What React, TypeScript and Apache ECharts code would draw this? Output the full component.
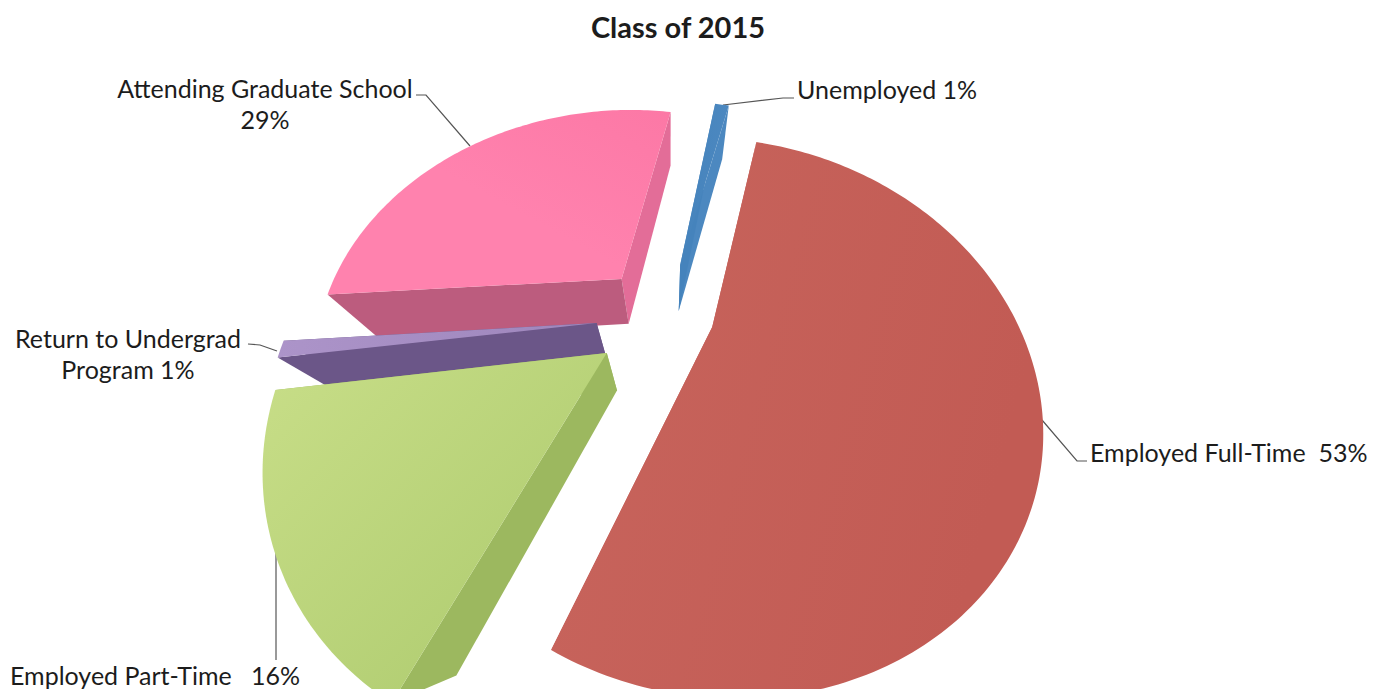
import React, { useEffect, useRef } from "react";
import * as echarts from "echarts";

// Employment outcomes, clockwise from the first slice
const categories = ["Employed Full-Time", "Employed Part-Time", "Return to Undergrad Program", "Attending Graduate School", "Unemployed"];
const shareValues = [53, 16, 1, 29, 1];

const FONT = "Lato, 'Open Sans', sans-serif";
const INK = "#1c1c1c";

// Projection of the pie's plane onto the page: a unit circle seen from above with perspective
const CAM = { cx: 661, cy: 315, ax: 302, ay: 243, persp: 0.32 };
const FLOOR_POINT = { x: 670, y: 585 }; // vanishing point of the slice walls
const THICKNESS = 0.154;
const START_ANGLE = 14;

// How far each slice is pulled out of the pie, in units of its radius
const EXPLODE_OFFSETS: [number, number][] = [
  [0.167, -0.049],
  [-0.171, -0.149],
  [-0.211, -0.033],
  [-0.137, 0.156],
  [0.068, 0.22],
];

type Pt = [number, number];

const project = (px: number, py: number): Pt => {
  const w = 1 + CAM.persp * py;
  return [CAM.cx + (CAM.ax * px) / w, CAM.cy - (CAM.ay * py) / w];
};

// Moves a plane point down through the slab, towards the vanishing point
const dropped = (px: number, py: number): Pt => {
  const [x, y] = project(px, py);
  const t = THICKNESS / (1 + CAM.persp * py);
  return [x + (FLOOR_POINT.x - x) * t, y + (FLOOR_POINT.y - y) * t];
};

const gradient = (x2: number, y2: number, from: string, to: string) => ({
  type: "linear",
  x: 0,
  y: 0,
  x2,
  y2,
  colorStops: [
    { offset: 0, color: from },
    { offset: 1, color: to },
  ],
});

const sliceStyles = [
  { top: gradient(1, 0.3, "#C8655D", "#C25B54"), startWall: "#C25B54", endWall: "#C25B54" },
  { top: gradient(1, 1, "#C8DE88", "#ABC96C"), startWall: "#9CB85F", endWall: "#9CB85F" },
  { top: gradient(1, 0, "#AC94C9", "#9E86BC"), startWall: "#6B5688", endWall: "#6B5688" },
  { top: gradient(0.7, -0.7, "#FF82AE", "#FB74A2"), startWall: "#BC5C7E", endWall: "#E36D98" },
  { top: gradient(1, 0, "#4583BC", "#4C88C0"), startWall: "#4583BC", endWall: "#4C88C0" },
];

const total = shareValues.reduce((a, b) => a + b, 0);
const rad = (deg: number) => (deg * Math.PI) / 180;

const sliceAngles = shareValues.map((_, i) => {
  const before = shareValues.slice(0, i).reduce((a, b) => a + b, 0);
  return [START_ANGLE + (before / total) * 360, START_ANGLE + ((before + shareValues[i]) / total) * 360];
});

// Painted far to near, so that nearer slices cover the walls behind them
const paintOrder = shareValues
  .map((_, i) => i)
  .sort((a, b) => Math.cos(rad((sliceAngles[b][0] + sliceAngles[b][1]) / 2)) - Math.cos(rad((sliceAngles[a][0] + sliceAngles[a][1]) / 2)));

const renderSlice = (_params: any, api: any) => {
  const index = api.value(0);
  const value = api.value(1);
  const start = sliceAngles[index][0];
  const sweep = (value / total) * 360;
  const [ox, oy] = EXPLODE_OFFSETS[index];
  const rim = (deg: number): Pt => [ox + Math.sin(rad(deg)), oy + Math.cos(rad(deg))];
  const steps = Math.max(4, Math.round(sweep));
  const arc: Pt[] = [];
  for (let s = 0; s <= steps; s++) arc.push(rim(start + (sweep * s) / steps));
  const a = arc[0];
  const b = arc[arc.length - 1];
  const style = sliceStyles[index];
  const wall = (p: Pt, fill: string) => ({
    type: "polygon",
    shape: { points: [project(ox, oy), project(p[0], p[1]), dropped(p[0], p[1]), dropped(ox, oy)] },
    style: { fill },
  });
  return {
    type: "group",
    children: [
      wall(b, style.endWall),
      wall(a, style.startWall),
      {
        type: "polygon",
        shape: { points: [project(ox, oy), ...arc.map((p) => project(p[0], p[1]))] },
        style: { fill: style.top },
      },
    ],
  };
};

// Label blocks with their leader lines
const labelBlocks = [
  { text: "Attending Graduate School\n29%", x: 265, y: 103, leading: 31, align: "center", line: [[470, 146], [426, 95], [416, 95]] },
  { text: "Unemployed 1%", x: 797, y: 89, leading: 31, align: "left", line: [[723, 105], [783, 98], [794, 98]] },
  { text: "Employed Full-Time  53%", x: 1090, y: 452, leading: 31, align: "left", line: [[1042, 420], [1077, 461], [1087, 461]] },
  { text: "Return to Undergrad\nProgram 1%", x: 128, y: 353, leading: 31, align: "center", line: [[277, 351], [260, 345], [248, 344]] },
  { text: "Employed Part-Time   16%", x: 10, y: 675, leading: 26, align: "left", line: [[276, 548], [276, 660]] },
];

export default function App() {
  const ref = useRef<HTMLDivElement>(null);
  useEffect(() => {
    const chart = echarts.init(ref.current!, undefined, { renderer: "svg" });
    chart.setOption({
      animation: false,
      backgroundColor: "#ffffff",
      title: {
        text: "Class of 2015",
        left: 673,
        top: 7,
        textAlign: "center",
        textStyle: { fontFamily: FONT, fontSize: 29, fontWeight: "bold", color: INK },
      },
      graphic: labelBlocks.flatMap((b) => [
        {
          type: "polyline",
          silent: true,
          shape: { points: b.line },
          style: { fill: "none", stroke: "#555555", lineWidth: 1.2 },
        },
        {
          type: "text",
          silent: true,
          x: b.x,
          y: b.y,
          style: {
            text: b.text,
            fill: INK,
            font: `25px ${FONT}`,
            lineHeight: b.leading,
            align: b.align,
            verticalAlign: "middle",
          },
        },
      ]),
      series: [
        {
          type: "custom",
          name: "Class of 2015",
          coordinateSystem: "none",
          renderItem: renderSlice,
          silent: true,
          data: paintOrder.map((i) => ({ name: categories[i], value: [i, shareValues[i]] })),
        },
      ],
    });
    return () => chart.dispose();
  }, []);
  return <div ref={ref} style={{ position: "fixed", left: 0, top: 0, width: 1384, height: 689 }} />;
}
